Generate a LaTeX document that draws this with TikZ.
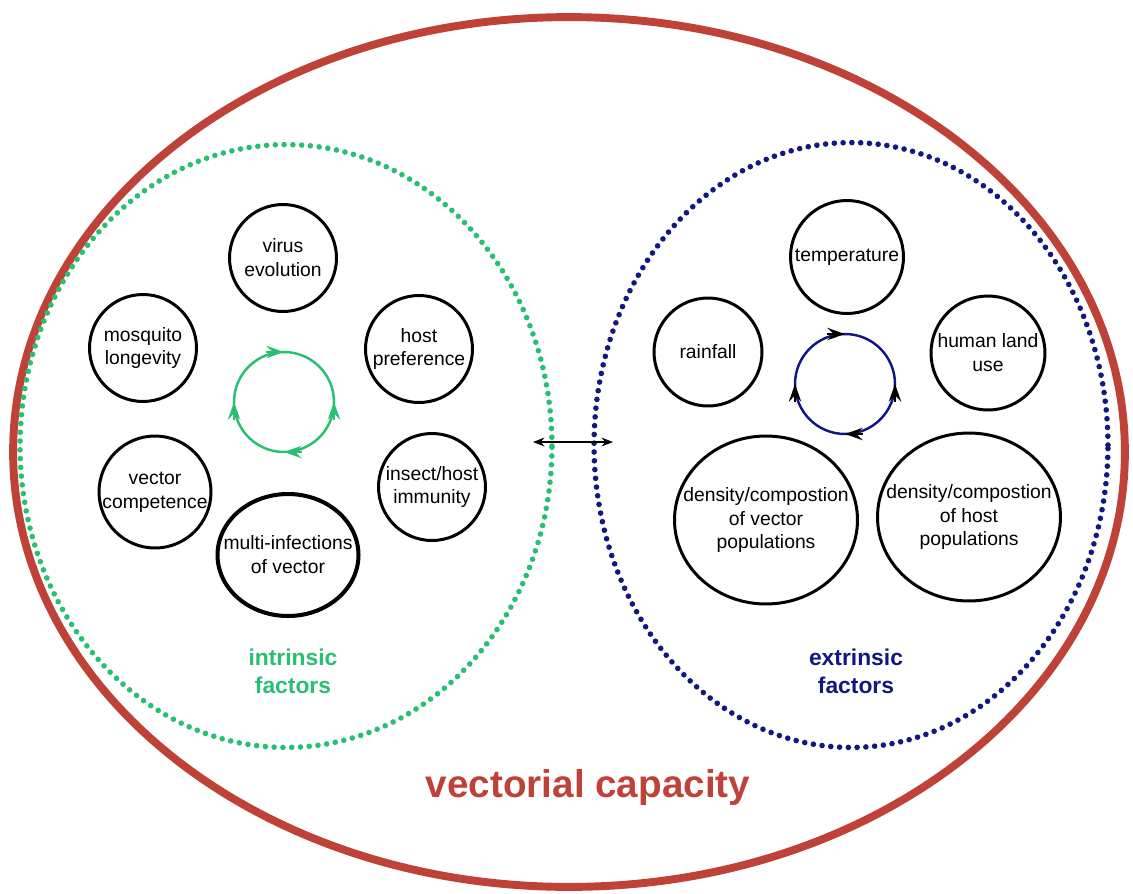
\documentclass[tikz,border=0pt]{standalone}
\usepackage{fontspec}
\setmainfont{Liberation Sans}
\usetikzlibrary{shapes}
\usetikzlibrary{arrows.meta}
\usetikzlibrary{positioning}
\definecolor{capred}{RGB}{190,66,56}
\definecolor{intgreen}{RGB}{40,192,112}
\definecolor{extblue}{RGB}{18,24,128}
\tikzstyle{factor}=[circle,draw=black,line width=1.7pt,align=center,inner sep=-6pt,font=\fontsize{11}{13.6}\selectfont]
\tikzstyle{bigfactor}=[ellipse,draw=black,line width=1.7pt,align=center,inner sep=-16pt,font=\fontsize{11}{13.6}\selectfont]
\tikzstyle{group}=[ellipse,line width=3.2pt,line cap=round,dash pattern=on 0pt off 5pt]
\tikzstyle{loopring}=[circle,draw,line width=1.4pt,minimum size=2cm,outer sep=0pt]
\tikzstyle{looptip}=[line width=1.4pt,-{Stealth[length=10pt,width=7pt,inset=3.5pt]}]
\tikzstyle{grouplabel}=[align=center,font=\fontsize{13}{16}\selectfont\bfseries]

\begin{document}
\begin{tikzpicture}[x=0.02cm, y=-0.02cm]

  \useasboundingbox (0,0) rectangle (1133,893);

  % outer frame and the two groups
  \node[ellipse, draw=capred, line width=4.5pt, minimum width=22.24cm, minimum height=17.4cm] (cap) at (569,452) {};
  \node[group, draw=intgreen, minimum width=10.64cm, minimum height=12.06cm] (intr) at (286,446) {};
  \node[group, draw=extblue, minimum width=10.28cm, minimum height=12.1cm] (extr) at (851,445) {};

  % intrinsic factors
  \foreach \x/\y/\name/\d/\label in {283/258/virus/2.14/{virus\\evolution},
                                     143/348/longev/2.14/{mosquito\\longevity},
                                     419/349/hostpref/2.14/{host\\preference},
                                     155/492/vcomp/2.24/{vector\\competence},
                                     432/487/immun/2.14/{insect/host\\immunity}}
    \node[factor, minimum size=\d cm] (\name) at (\x,\y) {\label};
  \node[bigfactor, line width=2.3pt, minimum width=2.82cm, minimum height=2.44cm] (multi) at (288,555) {multi-infections\\of vector};

  % extrinsic factors
  \foreach \x/\y/\name/\d/\label in {847/257/temp/2.26/{temperature},
                                     708/352/rain/2.16/{rainfall},
                                     988/353/landuse/2.28/{human land\\use}}
    \node[factor, minimum size=\d cm] (\name) at (\x,\y) {\label};
  \foreach \x/\y/\name/\label in {766/520/vecpop/{density/compostion\\of vector\\populations},
                                  969/517/hostpop/{density/compostion\\of host\\populations}}
    \node[bigfactor, minimum width=3.66cm, minimum height=3.36cm] (\name) at (\x,\y) {\label};

  % feedback loops
  \node[loopring, draw=intgreen] (gloop) at (284,402) {};
  \node[loopring, draw=extblue] (bloop) at (845,384) {};
  \foreach \a/\dx/\dy in {90/-10/0, 0/0/-10, 270/10/0, 180/0/-10}
  {
    \draw[looptip, intgreen] ([shift={(\dx pt,\dy pt)}]gloop.\a) -- (gloop.\a);
    \draw[looptip, black] ([shift={(\dx pt,\dy pt)}]bloop.\a) -- (bloop.\a);
  }

  % link between the groups
  \coordinate (linkl) at (533,442);
  \coordinate (linkr) at (613,442);
  \draw[line width=1pt, {Stealth[length=6.5pt,width=5pt]}-{Stealth[length=6.5pt,width=5pt]}] (linkl) -- (linkr);

  % labels
  \node[grouplabel, text=intgreen] (intlab) at (293,671) {intrinsic\\factors};
  \node[grouplabel, text=extblue] (extlab) at (856,671) {extrinsic\\factors};
  \node[anchor=base, text=capred, font=\fontsize{22}{26}\selectfont\bfseries] (caplab) at (588,797) {vectorial capacity};

\end{tikzpicture}
\end{document}
